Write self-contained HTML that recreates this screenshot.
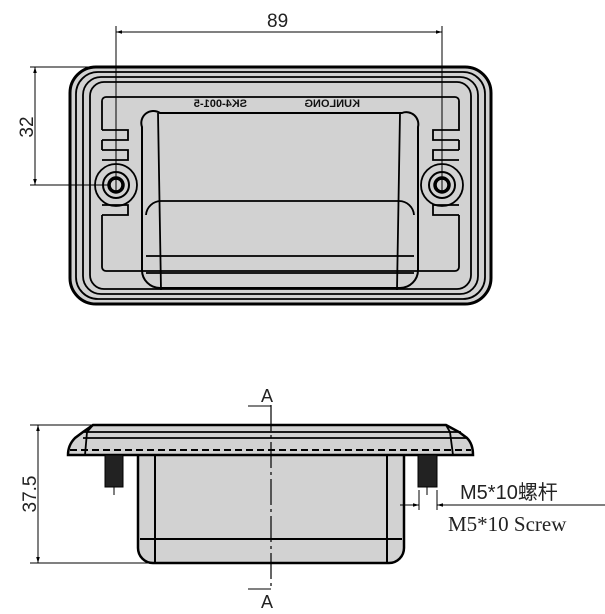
<!DOCTYPE html>
<html><head><meta charset="utf-8"><style>
html,body{margin:0;padding:0;background:#fff;width:605px;height:614px;overflow:hidden}
</style></head><body>
<svg width="605" height="614" viewBox="0 0 605 614" xmlns="http://www.w3.org/2000/svg" font-family="Liberation Sans, sans-serif">
<defs>
<marker id="ar" viewBox="0 0 10 10" refX="10" refY="5" markerWidth="8" markerHeight="6" orient="auto-start-reverse"><path d="M0,2 L10,5 L0,8 z" fill="#000"/></marker>
</defs>
<!-- TOP VIEW -->
<g stroke="#000" fill="none">
<rect x="70" y="67" width="421" height="237" rx="26" fill="#d2d2d2" stroke-width="3"/>
<rect x="76" y="72" width="409" height="227" rx="22" stroke-width="1.8"/>
<rect x="83" y="77" width="395" height="217" rx="18" stroke-width="1.8"/>
<rect x="90" y="82" width="381" height="207" rx="14" stroke-width="1.8"/>
<path d="M102,130 V101 a4,4 0 0 1 4,-4 H455 a4,4 0 0 1 4,4 V130 H433 v10 h26 M102,130 H128 v10 H102 M102,150 h26 v10 h-26 M102,205 h26 v10 h-26 M102,215 v52 a4,4 0 0 0 4,4 H455 a4,4 0 0 0 4,-4 V215 M459,205 h-26 v10 h26 M459,150 h-26 v10 h26 M102,140 v10 M459,140 v10" stroke-width="1.8"/>
<path d="M160,113 H402 a12,12 0 0 1 16,14 V270 a18,18 0 0 1 -18,18 H160 a18,18 0 0 1 -18,-18 V127 a12,12 0 0 1 18,-14 z" stroke-width="2"/>
<path d="M158,113 L161,290 M400,113 L397,290" stroke-width="1.8"/>
<path d="M146,215 a15,15 0 0 1 15,-14 H399 a15,15 0 0 1 15,14" stroke-width="1.8"/>
<path d="M146,256 H414 M146,273 H414" stroke-width="1.8"/>
<circle cx="116" cy="185" r="21" stroke-width="1.8"/><circle cx="116" cy="185" r="13" stroke-width="2"/><circle cx="116" cy="185" r="7" stroke-width="3.5"/>
<circle cx="442" cy="185" r="21" stroke-width="1.8"/><circle cx="442" cy="185" r="13" stroke-width="2"/><circle cx="442" cy="185" r="7" stroke-width="3.5"/>
</g>
<text x="205" y="107" font-size="11" font-weight="bold" fill="#111" transform="scale(-1,1) translate(-452,0)">SK4-001-5</text>
<text x="290" y="107" font-size="11" font-weight="bold" fill="#111" transform="scale(-1,1) translate(-650,0)">KUNLONG</text>
<!-- dims top -->
<g stroke="#000" stroke-width="1" fill="none">
<line x1="116" y1="26" x2="116" y2="192"/>
<line x1="442" y1="26" x2="442" y2="192"/>
<line x1="116" y1="32" x2="442" y2="32" marker-start="url(#ar)" marker-end="url(#ar)"/>
<line x1="30" y1="67" x2="110" y2="67"/>
<line x1="30" y1="185" x2="108" y2="185"/>
<line x1="35" y1="67" x2="35" y2="185" marker-start="url(#ar)" marker-end="url(#ar)"/>
</g>
<text x="267" y="27" font-size="19" fill="#222">89</text>
<text transform="translate(33,127) rotate(-90)" font-size="19" fill="#222" text-anchor="middle">32</text>
<!-- SIDE VIEW -->
<g stroke="#000" fill="none">
<path d="M138,455 V548 a15,15 0 0 0 15,15 H389 a15,15 0 0 0 15,-15 V455" fill="#d2d2d2" stroke-width="2.5"/>
<path d="M155,455 V563 M387,455 V563 M140,539 H402" stroke-width="2"/>
<path d="M93,425 H446 L459,432 L467,438 Q473,444 473,455 H68 Q68,445 75,438 L83,432 z" fill="#d2d2d2" stroke-width="2.5"/>
<path d="M93,425 L87,432 L85,455 M446,425 L450,432 L453,455 M83,432 H461 M83,438 H467" stroke-width="1.8"/>
<line x1="70" y1="450" x2="471" y2="450" stroke-width="2" stroke-dasharray="7,4"/>
<rect x="105" y="455" width="18" height="32" fill="#222" stroke-width="1"/>
<rect x="418" y="455" width="19" height="32" fill="#222" stroke-width="1"/>
<line x1="114" y1="487" x2="114" y2="495" stroke-width="1"/>
<line x1="427" y1="487" x2="427" y2="495" stroke-width="1"/>
<line x1="271" y1="405" x2="271" y2="590" stroke-width="1.2" stroke-dasharray="26,4,3,4"/>
<path d="M248,406 H271 M248,589 H271" stroke-width="1"/>
</g>
<text x="261" y="402" font-size="18" fill="#222">A</text>
<text x="261" y="608" font-size="18" fill="#222">A</text>
<g stroke="#000" stroke-width="1" fill="none">
<line x1="30" y1="425" x2="95" y2="425"/>
<line x1="30" y1="563" x2="150" y2="563"/>
<line x1="38" y1="425" x2="38" y2="563" marker-start="url(#ar)" marker-end="url(#ar)"/>
<line x1="419" y1="490" x2="419" y2="510"/>
<line x1="437" y1="490" x2="437" y2="510"/>
<line x1="400" y1="505" x2="419" y2="505" marker-end="url(#ar)"/>
<line x1="605" y1="505" x2="437" y2="505" marker-end="url(#ar)"/>
</g>
<text transform="translate(36,494) rotate(-90)" font-size="19" fill="#222" text-anchor="middle">37.5</text>
<text x="460" y="499" font-size="20" fill="#222" font-family="Liberation Sans, Noto Sans CJK SC, sans-serif">M5*10螺杆</text>
<text x="448" y="531" font-size="21" fill="#222" font-family="Liberation Serif, serif">M5*10 Screw</text>
</svg>
</body></html>
